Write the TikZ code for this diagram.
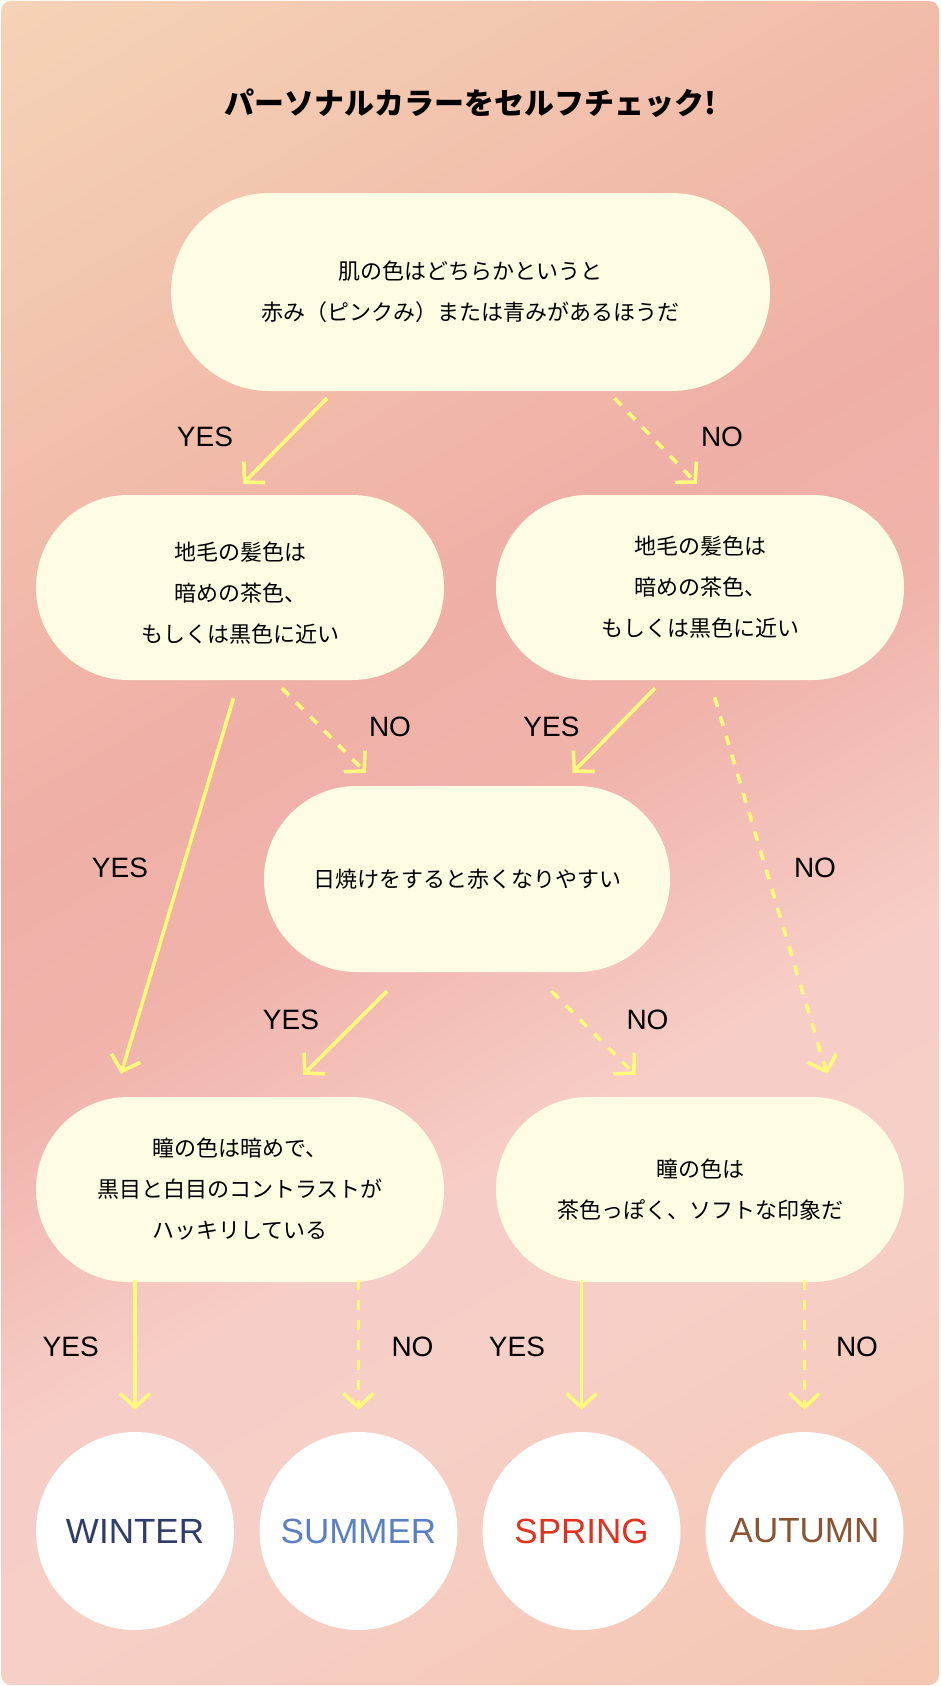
\documentclass[tikz,border=0pt]{standalone}
\usepackage{fontspec}
\setmainfont{Liberation Sans}
\newfontfamily\jp{Noto Sans CJK JP}
\usetikzlibrary{arrows.meta,calc}
\definecolor{boxfill}{HTML}{FEFDE3}
\definecolor{arrowc}{HTML}{FFF97C}
\definecolor{winterc}{HTML}{2E3D6A}
\definecolor{summerc}{HTML}{5B80C2}
\definecolor{springc}{HTML}{E0321E}
\definecolor{autumnc}{HTML}{8A5533}
\definecolor{g1}{HTML}{F5D5B8}
\definecolor{g2}{HTML}{F3C7B0}
\definecolor{g3}{HTML}{F1BAA9}
\definecolor{g4}{HTML}{EFAFA7}
\definecolor{g5}{HTML}{F0B4AB}
\definecolor{g6}{HTML}{F7CEC7}
\definecolor{g7}{HTML}{F6CFC6}
\definecolor{g8}{HTML}{F5C6B0}
\tikzset{
  qbox/.style={rectangle, fill=boxfill, inner sep=0pt, align=center,
    font=\jp\fontsize{22}{41}\selectfont, text=black},
  qtext/.style={inner sep=0pt, align=center,
    font=\jp\fontsize{22}{41}\selectfont, text=black},
  result/.style={circle, fill=white, inner sep=0pt, minimum size=198pt,
    font=\fontsize{35}{35}\selectfont},
  lbl/.style={inner sep=0pt, font=\fontsize{28}{28}\selectfont, text=black},
  conline/.style={draw=arrowc, line width=3.6pt,
    -{Straight Barb[length=14pt,width=30pt]}},
  yesline/.style={conline},
  noline/.style={conline, dash pattern=on 10pt off 10pt},
}
\begin{document}
\begin{tikzpicture}[x=1pt,y=-1pt]
\useasboundingbox (0,0) rectangle (940,1686);
\fill[white] (0,0) rectangle (940,1686);
% background gradient
\begin{scope}
  \clip[rounded corners=10pt] (1,1) rectangle (939,1685);
  \begin{scope}[transform canvas={rotate around={30:(470,843)}}]
    \shade[top color=g1, bottom color=g2] (-700,-157) rectangle (1640,144);
    \shade[top color=g2, bottom color=g3] (-700,143) rectangle (1640,394);
    \shade[top color=g3, bottom color=g4] (-700,393) rectangle (1640,634);
    \shade[top color=g4, bottom color=g5] (-700,633) rectangle (1640,844);
    \shade[top color=g5, bottom color=g6] (-700,843) rectangle (1640,1144);
    \shade[top color=g6, bottom color=g7] (-700,1143) rectangle (1640,1344);
    \shade[top color=g7, bottom color=g8] (-700,1343) rectangle (1640,1843);
  \end{scope}
\end{scope}

% title
\node[inner sep=0pt, font=\jp\bfseries\fontsize{30}{30}\selectfont] (title) at (470.5,103) {パーソナルカラーをセルフチェック!};

% question boxes
\node[qbox, minimum width=599pt, minimum height=198pt, rounded corners=98.5pt] (q1) at (470.5,292)
  {肌の色はどちらかというと\\赤み（ピンクみ）または青みがあるほうだ};
\node[qbox, minimum width=408pt, minimum height=185pt, rounded corners=92pt] (q2L) at (240,587.5) {};
\node[qtext] (q2Lt) at ($(q2L.center)+(0,6)$) {地毛の髪色は\\暗めの茶色、\\もしくは黒色に近い};
\node[qbox, minimum width=408pt, minimum height=185pt, rounded corners=92pt] (q2R) at (700,587.5)
  {地毛の髪色は\\暗めの茶色、\\もしくは黒色に近い};
\node[qbox, minimum width=406pt, minimum height=186pt, rounded corners=92.5pt] (q3) at (467,879)
  {日焼けをすると赤くなりやすい};
\node[qbox, minimum width=408pt, minimum height=185pt, rounded corners=92pt] (q4L) at (240,1189.5)
  {瞳の色は暗めで、\\黒目と白目のコントラストが\\ハッキリしている};
\node[qbox, minimum width=408pt, minimum height=185pt, rounded corners=92pt] (q4R) at (700,1189.5)
  {瞳の色は\\茶色っぽく、ソフトな印象だ};

% results
\node[result, text=winterc] (win) at (135,1531) {WINTER};
\node[result, text=summerc] (sum) at (358.5,1531) {SUMMER};
\node[result, text=springc] (spr) at (581.5,1531) {SPRING};
\node[result, text=autumnc] (aut) at (804.5,1531) {AUTUMN};

% connectors
\draw[yesline] ($(q1.south)+(-143.5,7)$) -- ($(q2L.north)+(3,-11)$);
\draw[noline] ($(q1.south)+(144,7)$) -- ($(q2R.north)+(-3,-11)$);
\draw[yesline] ($(q2L.south)+(-6.5,18)$) -- ($(q4L.north)+(-119,-23)$);
\draw[noline] ($(q2L.south)+(42,8)$) -- ($(q3.north)+(-101,-13)$);
\draw[yesline] ($(q2R.south)+(-45,8)$) -- ($(q3.north)+(105.5,-13)$);
\draw[noline] ($(q2R.south)+(14.6,17)$) -- ($(q4R.north)+(127,-23)$);
\draw[yesline] ($(q3.south)+(-80,19)$) -- ($(q4L.north)+(63,-22)$);
\draw[noline] ($(q3.south)+(84.5,19)$) -- ($(q4R.north)+(-64.5,-22)$);
\draw[yesline] ($(win.north |- q4L.south)+(0,-2)$) -- ($(win.north)+(0,-22)$);
\draw[noline] ($(sum.north |- q4L.south)+(0,-2)$) -- ($(sum.north)+(0,-22)$);
\draw[yesline] ($(spr.north |- q4R.south)+(0,-2)$) -- ($(spr.north)+(0,-22)$);
\draw[noline] ($(aut.north |- q4R.south)+(0,-2)$) -- ($(aut.north)+(0,-22)$);

% labels
\node[lbl] (y1) at (205,437) {YES};
\node[lbl] (n1) at (722,437) {NO};
\node[lbl] (n2) at (390,727) {NO};
\node[lbl] (y2) at (551.5,727) {YES};
\node[lbl] (y3) at (120,868) {YES};
\node[lbl] (n3) at (815,868) {NO};
\node[lbl] (y4) at (291,1020) {YES};
\node[lbl] (n4) at (647.5,1020) {NO};
\node[lbl] (y5) at (70.7,1347) {YES};
\node[lbl] (n5) at (412.5,1347) {NO};
\node[lbl] (y6) at (517,1347) {YES};
\node[lbl] (n6) at (857,1347) {NO};
\end{tikzpicture}
\end{document}
